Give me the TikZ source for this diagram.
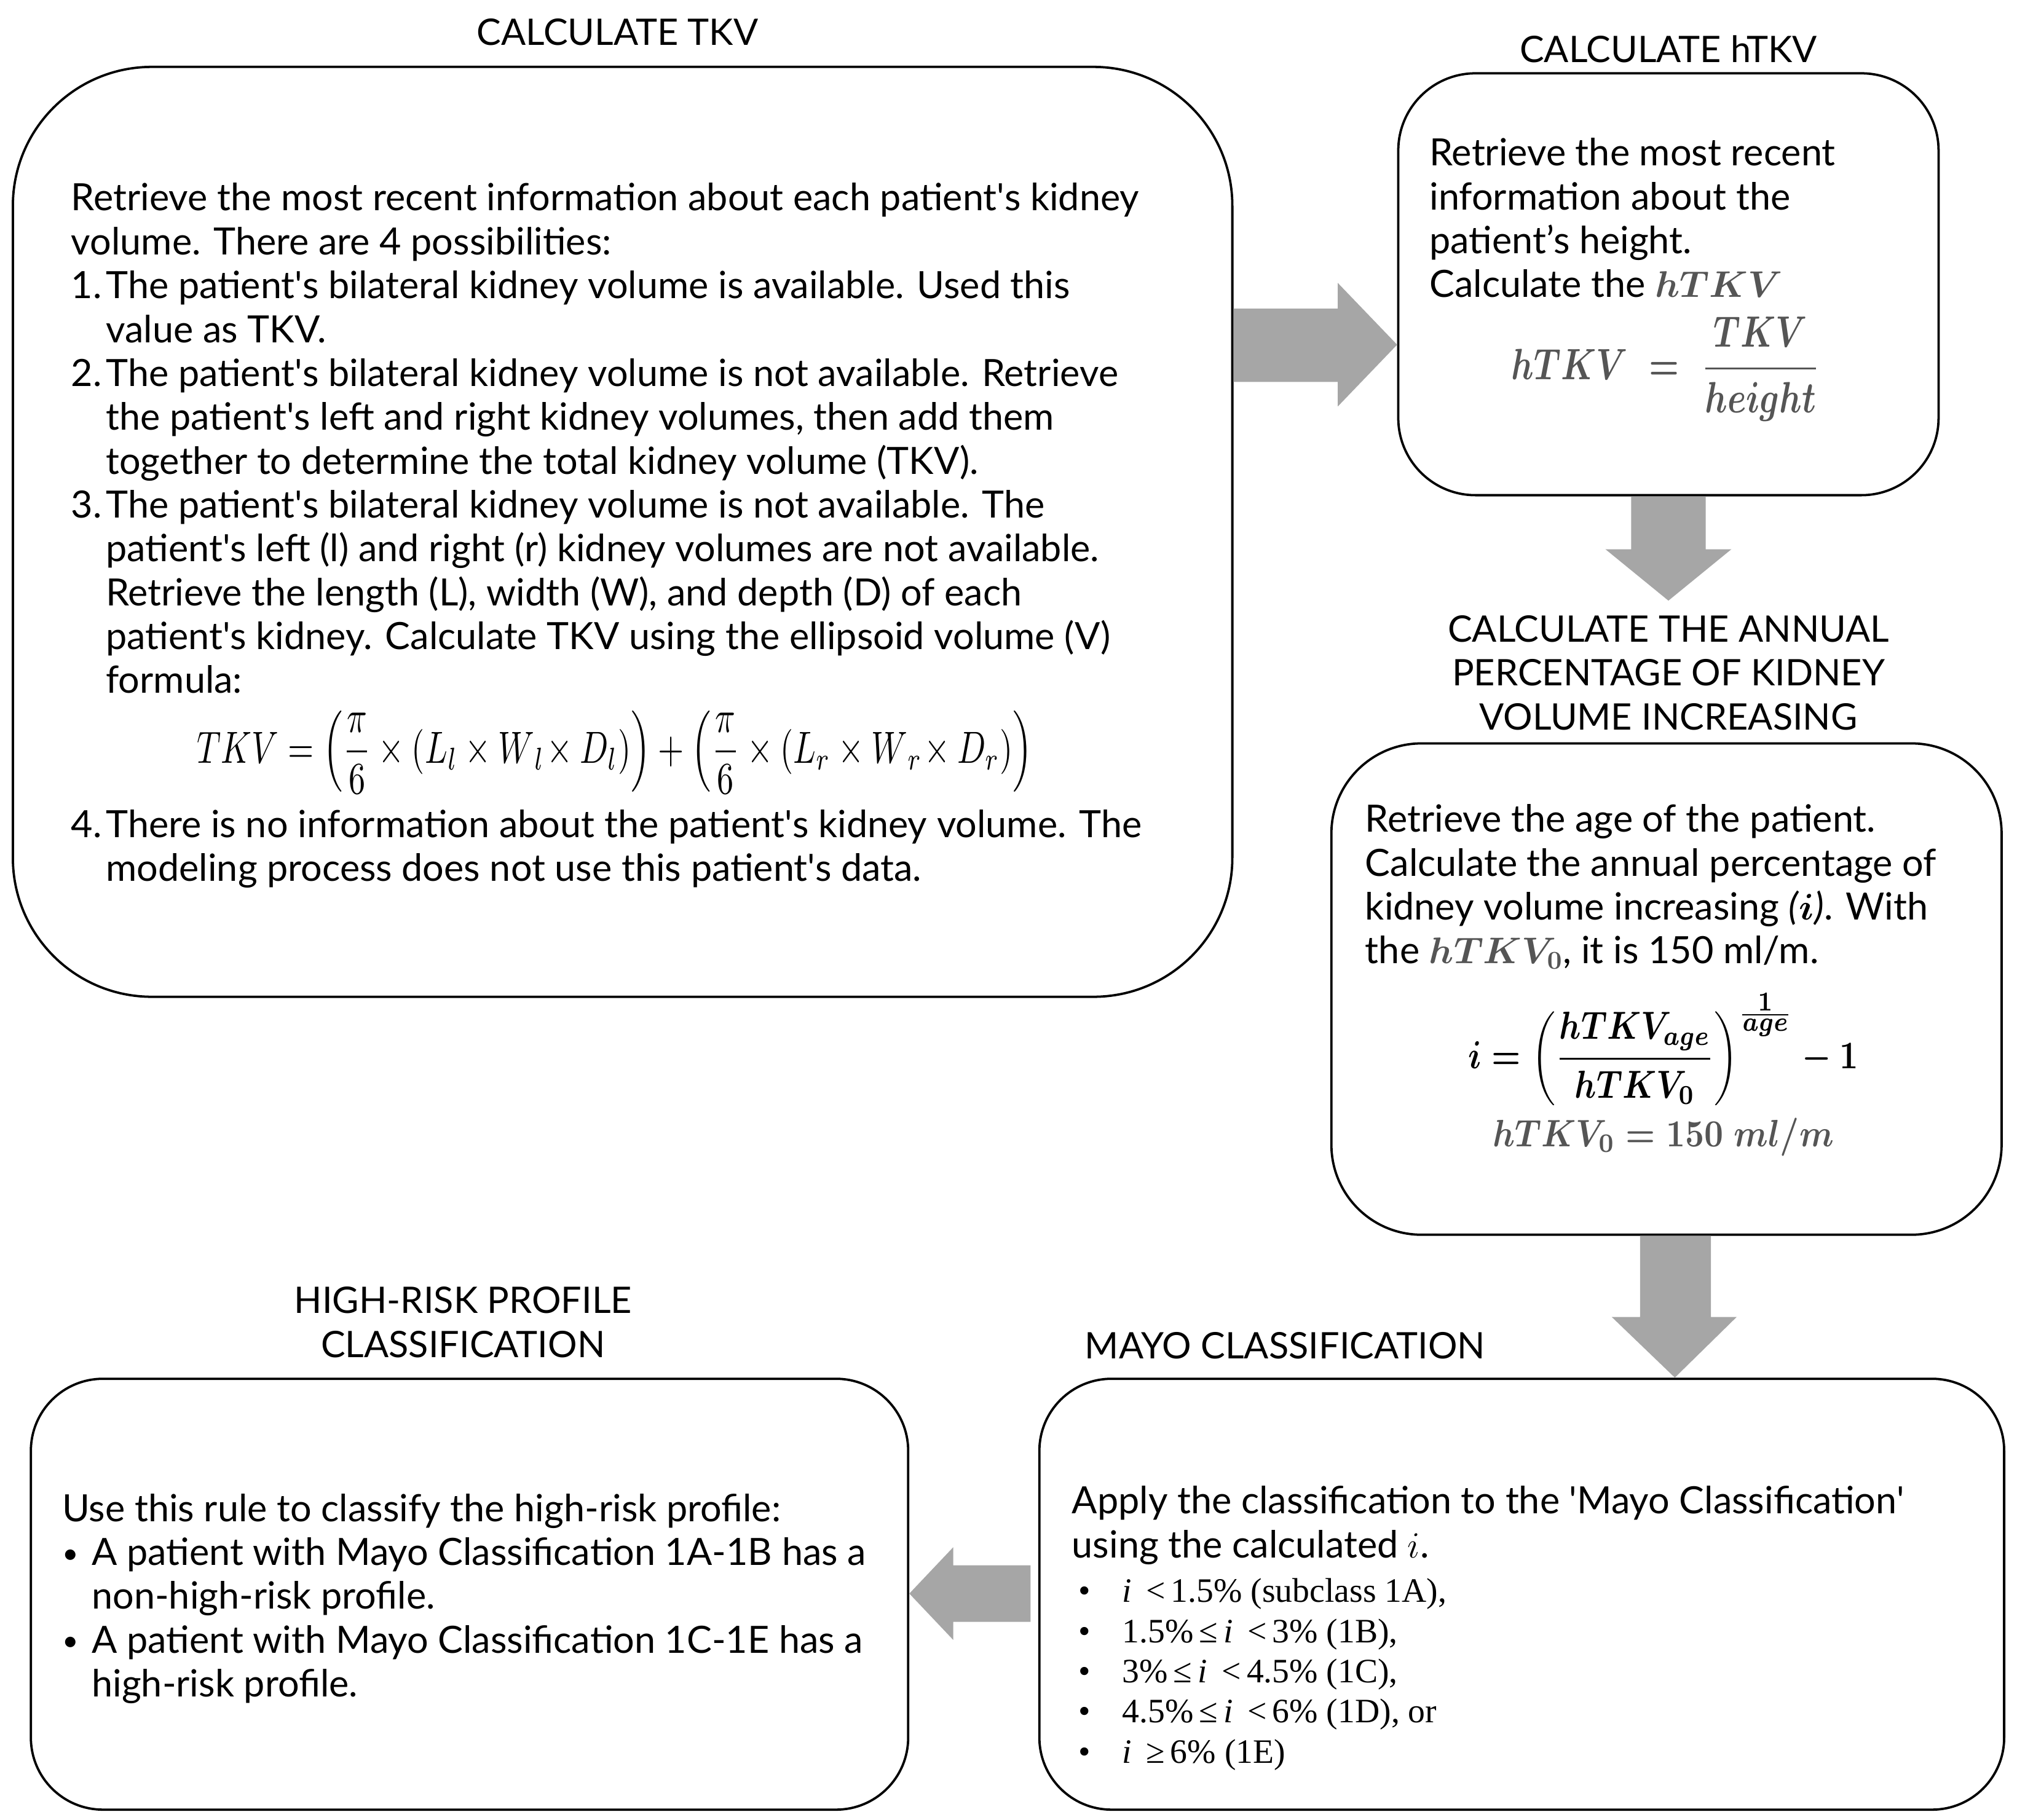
\documentclass[tikz,border=0pt]{standalone}
\usepackage{amsmath}
\usepackage{graphicx}
\usepackage[no-math]{fontspec}
\setmainfont{Lato}
\newfontfamily\timesfont{Liberation Serif}
\usetikzlibrary{fit,calc}
\definecolor{arrowgray}{RGB}{166,166,166}
\definecolor{mathgray}{RGB}{85,85,85}
\setlength{\parindent}{0pt}
\newcommand{\itemlab}[1]{\makebox[13.5pt][l]{#1}}
\newcommand{\itemind}{\hspace*{13.5pt}}
\newcommand{\bulA}{\makebox[11.5pt][l]{\raisebox{0.8pt}{\scalebox{0.75}{•}}}}
\newcommand{\indA}{\hspace*{11.5pt}}
\newcommand{\bulB}{\makebox[17pt][l]{•}}
\newcommand{\sq}{\textquotesingle}
\begin{document}
\begin{tikzpicture}[x=0.5pt,y=-0.5pt,
  box/.style={draw=black, line width=0.9pt, inner sep=0pt},
  ttl/.style={font=\fontsize{14.2}{17.05}\selectfont, inner sep=0pt, align=center},
  body/.style={font=\fontsize{14.6}{17.05}\selectfont, inner sep=0pt, anchor=north west, align=left},
  blk/.style={fill=arrowgray, draw=none},
  frm/.style={inner sep=0pt}]

\useasboundingbox (0,0) rectangle (1568,1414.6);

% boxes
\node[box, rounded corners=54pt, fit={(10,52) (958,775)}] (b1) {};
\node[box, rounded corners=30pt, fit={(1087,57) (1507,385)}] (b2) {};
\node[box, rounded corners=35pt, fit={(1035,578) (1556,960)}] (b3) {};
\node[box, rounded corners=28pt, fit={(24,1072) (706,1407)}] (b4) {};
\node[box, rounded corners=28pt, fit={(808,1072) (1558,1407)}] (b5) {};

% titles
\node[ttl] (t1) at (480,25) {CALCULATE TKV};
\node[ttl] (t2) at (1297,38) {CALCULATE hTKV};
\node[ttl] (t3) at (1297,523) {CALCULATE THE ANNUAL\\PERCENTAGE OF KIDNEY\\VOLUME INCREASING};
\node[ttl, anchor=west] (t4) at (843,1046) {MAYO CLASSIFICATION};
\node[ttl] (t5) at (360,1028) {HIGH-RISK PROFILE\\CLASSIFICATION};

% box 1 text
\node[body] (p1) at (55,142) {Retrieve the most recent information about each patient\sq s kidney\\
volume. There are 4 possibilities:\\
\itemlab{1.}The patient\sq s bilateral kidney volume is available. Used this\\
\itemind value as TKV.\\
\itemlab{2.}The patient\sq s bilateral kidney volume is not available. Retrieve\\
\itemind the patient\sq s left and right kidney volumes, then add them\\
\itemind together to determine the total kidney volume (TKV).\\
\itemlab{3.}The patient\sq s bilateral kidney volume is not available. The\\
\itemind patient\sq s left (l) and right (r) kidney volumes are not available.\\
\itemind Retrieve the length (L), width (W), and depth (D) of each\\
\itemind patient\sq s kidney. Calculate TKV using the ellipsoid volume (V)\\
\itemind formula:};
\node[frm] (f1) at (478,585) {\scalebox{1}[1.35]{\resizebox{325pt}{!}{$\displaystyle TKV = \left(\frac{\pi}{6}\times(L_l \times W_{\,l}\!\times D_l)\right)+\left(\frac{\pi}{6}\times(L_r \times W_{\,r}\!\times D_r)\right)$}}};
\node[body] (p1b) at (55,629) {\itemlab{4.}There is no information about the patient\sq s kidney volume. The\\
\itemind modeling process does not use this patient\sq s data.};

% box 2 text
\node[body] (p2) at (1111,107) {Retrieve the most recent\\
information about the\\
patient’s height.\\
Calculate the {\color{mathgray}\boldmath$hTKV$}};
\node[frm, text=mathgray] (f2) at (1295,287) {\scalebox{1}[1.3]{\resizebox{120pt}{!}{\boldmath$\displaystyle hTKV \;=\; \frac{TKV}{height}$}}};

% box 3 text
\node[body] (p3) at (1061,625) {Retrieve the age of the patient.\\
Calculate the annual percentage of\\
kidney volume increasing \textit{(}{\boldmath$i$}\textit{)}. With\\
the {\color{mathgray}\boldmath$hTKV_0$}, it is 150 ml/m.};
\node[frm] (f3) at (1293,816) {\scalebox{1}[1.2]{\resizebox{151.5pt}{!}{\boldmath$\displaystyle i = \left(\frac{hTKV_{age}}{hTKV_0}\right)^{\frac{\scriptstyle 1}{\scriptstyle age}} - 1$}}};
\node[frm, text=mathgray] (f4) at (1293,884) {\scalebox{1}[1.15]{\resizebox{132.5pt}{!}{\boldmath$hTKV_0 = 150\; ml/m$}}};

% box 4 text
\node[body] (p4) at (48,1161) {Use this rule to classify the high-risk profile:\\
\bulA A patient with Mayo Classification 1A-1B has a\\
\indA non-high-risk profile.\\
\bulA A patient with Mayo Classification 1C-1E has a\\
\indA high-risk profile.};

% box 5 text
\node[body] (p5) at (833,1155) {Apply the classification to the \sq Mayo Classification\sq\\
using the calculated $i$.};
\node[anchor=north west, inner sep=0pt, align=left, font=\timesfont\fontsize{13.3}{15.6}\selectfont] (p5b) at (838,1227) {\bulB\textit{i} \,<\,1.5\% (subclass 1A),\\
\bulB 1.5\%\,≤\,\textit{i} \,<\,3\% (1B),\\
\bulB 3\%\,≤\,\textit{i} \,<\,4.5\% (1C),\\
\bulB 4.5\%\,≤\,\textit{i} \,<\,6\% (1D), or\\
\bulB\textit{i} \,≥\,6\% (1E)};

% block arrows
\fill[blk] (b1.east |- 0,240) -- (1040,240) -- (1040,220) -- (b2.west |- 0,268) -- (1040,316) -- (1040,297) -- (b1.east |- 0,297) -- cycle;
\coordinate (a2tip) at (1297,467);
\fill[blk] (1268,0 |- b2.south) -- (1268,427) -- (1248,427) -- (a2tip) -- (1346,427) -- (1326,427) -- (1326,0 |- b2.south) -- cycle;
\fill[blk] (1275,0 |- b3.south) -- (1275,1024) -- (1253,1024) -- (1302,0 |- b5.north) -- (1350,1024) -- (1330,1024) -- (1330,0 |- b3.south) -- cycle;
\fill[blk] ([xshift=-3pt]b5.west |- 0,1217) -- (741,1217) -- (741,1203) -- (b4.east |- 0,1239) -- (741,1275) -- (741,1261) -- ([xshift=-3pt]b5.west |- 0,1261) -- cycle;
\end{tikzpicture}
\end{document}
